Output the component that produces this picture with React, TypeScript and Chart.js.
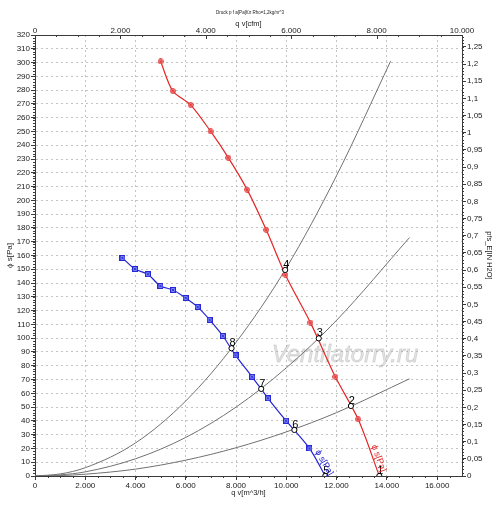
import React, { useEffect, useRef } from 'react';
import { Chart, registerables } from 'chart.js';

Chart.register(...registerables);

// ---- data ----
const FAN_RED_Q = [5000, 5480, 6190, 6990, 7690, 8440, 9200, 9965, 10960, 11950, 12860, 13700];
const FAN_RED_P = [300.8, 279.5, 269.3, 250, 231, 207.8, 178.6, 145.9, 111.3, 72, 41.1, 0];

const FAN_BLUE_Q = [3480, 3980, 4490, 4990, 5490, 5995, 6470, 6950, 7475, 7980, 8640, 9270, 9990, 10920, 11550];
const FAN_BLUE_P = [158.2, 150.2, 146.4, 137.9, 135, 129.2, 122.7, 113.3, 101.6, 87.6, 72, 56.4, 40.1, 20, 0];

const SYS_A_Q = [0, 1000, 2000, 4000, 6000, 8000, 10000, 12000, 14150];
const SYS_A_P = [0, 1.5, 6, 24, 54.5, 97, 151, 218, 301];
const SYS_B_Q = [0, 1000, 2000, 4000, 6000, 8000, 10000, 12000, 14900];
const SYS_B_P = [0, 0.8, 3, 12.5, 28, 50, 78.5, 113, 173];
const SYS_C_Q = [0, 1000, 2000, 4000, 6000, 8000, 10000, 12000, 14900];
const SYS_C_P = [0, 0.3, 1.3, 5, 11.5, 20.5, 32, 46, 70.5];

const OP_Q = [13700, 12570, 11290, 9955, 11550, 10320, 9000, 7820];
const OP_P = [0, 50.8, 99.9, 149.5, 0, 33.4, 63.2, 92.7];
const OP_LABELS = ['1', '2', '3', '4', '5', '6', '7', '8'];

const X_TICKS = [0, 2000, 4000, 6000, 8000, 10000, 12000, 14000, 16000];
const CFM_TICKS = [0, 2000, 4000, 6000, 8000, 10000];
const P_TICK_STEP = 10;
const INH2O_TICK_STEP = 0.05;
const CFM_MAX = 10000;
const M3H_PER_CFM = 1.699;
const X_MAX = CFM_MAX * M3H_PER_CFM;
const P_MAX = 320;
const PA_PER_INH2O = 249.089;
const INH2O_MAX = P_MAX / PA_PER_INH2O;

const TITLE_TEXT = 'Druck p f a[Pa]für Rho=1,2kg/m^3';
const X_TITLE = 'q v[m^3/h]';
const X2_TITLE = 'q v[cfm]';
const Y_TITLE = 'ϕ s[Pa]';
const Y2_TITLE = 'pfs_E[IN H2O]';
const CURVE_LABEL = 'ϕ s[Pa]';
const WATERMARK = 'Ventilatorry.ru';

// ---- styles ----
const FONT = '"Liberation Sans", Arial, sans-serif';
const RED = 'rgb(228,38,38)';
const BLUE = 'rgb(36,36,214)';
const GRAY = '#717171';
const AXIS = '#3a3a3a';
const GRID = '#c4c4c4';
const TEXT = '#1a1a1a';

const fmtThousands = (v: number) =>
  String(Math.round(v)).replace(/\B(?=(\d{3})+(?!\d))/g, '.');
const fmtDec = (v: number) => String(Math.round(v * 100) / 100).replace('.', ',');

function makeMarker(kind: 'circle' | 'square', stroke: string, fill: string) {
  const c = document.createElement('canvas');
  c.width = 6;
  c.height = 6;
  const g = c.getContext('2d')!;
  g.lineWidth = 1;
  g.strokeStyle = stroke;
  g.fillStyle = fill;
  if (kind === 'circle') {
    g.beginPath();
    g.arc(3, 3, 2.4, 0, Math.PI * 2);
    g.fill();
    g.stroke();
  } else {
    g.fillRect(0.5, 0.5, 5, 5);
    g.strokeRect(0.5, 0.5, 5, 5);
  }
  g.lineWidth = 0.8;
  g.beginPath();
  g.moveTo(1.6, 1.6);
  g.lineTo(4.4, 4.4);
  g.moveTo(4.4, 1.6);
  g.lineTo(1.6, 4.4);
  g.stroke();
  return c;
}

const toXY = (q: number[], p: number[]) => q.map((x, i) => ({ x, y: p[i] }));
const fixedTicks = (values: number[]) => (s: any) => {
  s.ticks = values.map((value) => ({ value }));
};

export default function App() {
  const ref = useRef<HTMLCanvasElement | null>(null);

  useEffect(() => {
    document.body.style.margin = '0';
    const canvas = ref.current;
    if (!canvas) return;

    const redMarker = makeMarker('circle', 'rgb(220,40,40)', 'rgba(250,150,150,0.9)');
    const blueMarker = makeMarker('square', 'rgb(40,40,210)', 'rgba(120,130,250,0.95)');

    const lastRed = FAN_RED_Q.length - 1;
    const lastBlue = FAN_BLUE_Q.length - 1;

    const titlePlugin = {
      id: 'mainTitle',
      afterDraw(chart: any) {
        const { ctx } = chart;
        ctx.save();
        ctx.font = `4.5px ${FONT}`;
        ctx.fillStyle = TEXT;
        ctx.textAlign = 'center';
        ctx.textBaseline = 'middle';
        ctx.fillText(TITLE_TEXT, chart.width / 2, 13);
        ctx.restore();
      },
    };

    const watermarkPlugin = {
      id: 'watermark',
      beforeDatasetsDraw(chart: any) {
        const { ctx } = chart;
        ctx.save();
        ctx.font = `italic 24px ${FONT}`;
        ctx.fillStyle = 'rgba(175,175,175,0.35)';
        ctx.strokeStyle = 'rgba(160,160,160,0.35)';
        ctx.lineWidth = 0.8;
        ctx.textAlign = 'center';
        ctx.textBaseline = 'alphabetic';
        ctx.fillText(WATERMARK, 345, 362);
        ctx.strokeText(WATERMARK, 345, 362);
        ctx.restore();
      },
    };

    const minorTicksPlugin = {
      id: 'minorTicks',
      afterDraw(chart: any) {
        const { ctx, chartArea: a, scales } = chart;
        ctx.save();
        ctx.strokeStyle = AXIS;
        ctx.lineWidth = 1;
        const draw = (scale: any, step: number, len: number, side: string) => {
          const n = Math.floor((scale.max - scale.min) / step + 1e-6);
          for (let i = 0; i <= n; i++) {
            const v = scale.min + i * step;
            const p = Math.round(scale.getPixelForValue(v)) + 0.5;
            ctx.beginPath();
            if (side === 'left') {
              ctx.moveTo(a.left, p);
              ctx.lineTo(a.left - len, p);
            } else if (side === 'right') {
              ctx.moveTo(a.right, p);
              ctx.lineTo(a.right + len, p);
            } else if (side === 'bottom') {
              ctx.moveTo(p, a.bottom);
              ctx.lineTo(p, a.bottom + len);
            } else {
              ctx.moveTo(p, a.top);
              ctx.lineTo(p, a.top + len);
            }
            ctx.stroke();
          }
        };
        draw(scales.y, P_TICK_STEP / 5, 2, 'left');
        draw(scales.y2, INH2O_TICK_STEP / 5, 2, 'right');
        draw(scales.x, (X_TICKS[1] - X_TICKS[0]) / 4, 2, 'bottom');
        draw(scales.x2, (CFM_TICKS[1] - CFM_TICKS[0]) / 4, 2, 'top');
        draw(scales.x2, CFM_TICKS[1] - CFM_TICKS[0], 4, 'top');
        ctx.restore();
      },
    };

    const labelsPlugin = {
      id: 'pointLabels',
      afterDatasetsDraw(chart: any) {
        const { ctx } = chart;
        ctx.save();
        const opMeta = chart.getDatasetMeta(0);
        ctx.font = `11px ${FONT}`;
        ctx.fillStyle = '#000';
        ctx.textAlign = 'center';
        ctx.textBaseline = 'alphabetic';
        opMeta.data.forEach((el: any, i: number) => {
          ctx.fillText(OP_LABELS[i], el.x + 1, el.y - 2);
        });
        const curveLabel = (dsIndex: number, frac: number, color: string) => {
          const els = chart.getDatasetMeta(dsIndex).data;
          const a = els[els.length - 2];
          const b = els[els.length - 1];
          const x = a.x + (b.x - a.x) * frac;
          const y = a.y + (b.y - a.y) * frac;
          const ang = Math.atan2(b.y - a.y, b.x - a.x);
          ctx.save();
          ctx.translate(x, y);
          ctx.rotate(ang);
          ctx.font = `9px ${FONT}`;
          ctx.fillStyle = color;
          ctx.textAlign = 'center';
          ctx.textBaseline = 'bottom';
          ctx.fillText(CURVE_LABEL, 0, -1);
          ctx.restore();
        };
        curveLabel(1, 0.72, RED);
        curveLabel(2, 0.62, BLUE);
        ctx.restore();
      },
    };

    const tickFont = { family: FONT, size: 8 };

    const chart = new Chart(canvas, {
      type: 'line',
      data: {
        datasets: [
          {
            label: 'operating points',
            data: toXY(OP_Q, OP_P),
            showLine: false,
            pointStyle: 'circle',
            pointRadius: 2.6,
            pointBackgroundColor: '#fff',
            pointBorderColor: '#000',
            pointBorderWidth: 1,
            xAxisID: 'x',
            yAxisID: 'y',
          },
          {
            label: 'red',
            data: toXY(FAN_RED_Q, FAN_RED_P),
            borderColor: RED,
            borderWidth: 1.2,
            tension: 0.3,
            pointStyle: redMarker as any,
            pointRadius: (c: any) => (c.dataIndex === lastRed ? 0 : 3),
            xAxisID: 'x',
            yAxisID: 'y',
          },
          {
            label: 'blue',
            data: toXY(FAN_BLUE_Q, FAN_BLUE_P),
            borderColor: BLUE,
            borderWidth: 1.2,
            tension: 0.3,
            pointStyle: blueMarker as any,
            pointRadius: (c: any) => (c.dataIndex === lastBlue ? 0 : 3),
            xAxisID: 'x',
            yAxisID: 'y',
          },
          {
            label: 'sysA',
            data: toXY(SYS_A_Q, SYS_A_P),
            borderColor: GRAY,
            borderWidth: 1,
            cubicInterpolationMode: 'monotone',
            pointRadius: 0,
            xAxisID: 'x',
            yAxisID: 'y',
          },
          {
            label: 'sysB',
            data: toXY(SYS_B_Q, SYS_B_P),
            borderColor: GRAY,
            borderWidth: 1,
            cubicInterpolationMode: 'monotone',
            pointRadius: 0,
            xAxisID: 'x',
            yAxisID: 'y',
          },
          {
            label: 'sysC',
            data: toXY(SYS_C_Q, SYS_C_P),
            borderColor: GRAY,
            borderWidth: 1,
            cubicInterpolationMode: 'monotone',
            pointRadius: 0,
            xAxisID: 'x',
            yAxisID: 'y',
          },
        ],
      },
      options: {
        animation: false,
        responsive: true,
        maintainAspectRatio: false,
        layout: { padding: 0 },
        events: [],
        plugins: {
          legend: { display: false },
          tooltip: { enabled: false },
          title: { display: false },
        },
        scales: {
          x: {
            type: 'linear',
            position: 'bottom',
            min: 0,
            max: X_MAX,
            afterBuildTicks: fixedTicks(X_TICKS),
            afterFit: (s: any) => {
              s.height = 34;
            },
            grid: {
              color: GRID,
              lineWidth: 1,
              tickLength: 4,
              tickColor: AXIS,
            },
            border: { display: true, color: AXIS, width: 1, dash: [2, 3] },
            ticks: {
              autoSkip: false,
              maxRotation: 0,
              padding: 1,
              color: TEXT,
              font: tickFont,
              callback: (v: any) => fmtThousands(Number(v)),
            },
            title: {
              display: true,
              text: X_TITLE,
              color: TEXT,
              font: { family: FONT, size: 7.5 },
              padding: { top: 0, bottom: 12.5 },
            },
          },
          x2: {
            type: 'linear',
            position: 'top',
            min: 0,
            max: CFM_MAX,
            afterBuildTicks: fixedTicks(CFM_TICKS),
            afterFit: (s: any) => {
              s.height = 35;
            },
            grid: { drawOnChartArea: false, drawTicks: false },
            border: { display: true, color: AXIS, width: 1 },
            ticks: {
              autoSkip: false,
              maxRotation: 0,
              padding: -1,
              color: TEXT,
              font: tickFont,
              callback: (v: any) => fmtThousands(Number(v)),
            },
            title: {
              display: true,
              text: X2_TITLE,
              color: TEXT,
              font: { family: FONT, size: 7.5 },
              padding: { top: 19.5, bottom: 0 },
            },
          },
          y: {
            type: 'linear',
            position: 'left',
            min: 0,
            max: P_MAX,
            afterFit: (s: any) => {
              s.width = 35;
            },
            grid: {
              color: GRID,
              lineWidth: 1,
              tickLength: 4,
              tickColor: AXIS,
            },
            border: { display: true, color: AXIS, width: 1, dash: [2, 3] },
            ticks: {
              stepSize: P_TICK_STEP,
              autoSkip: false,
              padding: 1,
              color: TEXT,
              font: tickFont,
            },
            title: {
              display: true,
              text: Y_TITLE,
              color: TEXT,
              font: { family: FONT, size: 8 },
              padding: { top: 5, bottom: 0 },
            },
          },
          y2: {
            type: 'linear',
            position: 'right',
            min: 0,
            max: INH2O_MAX,
            afterFit: (s: any) => {
              s.width = 38;
            },
            grid: { drawOnChartArea: false, tickLength: 4, tickColor: AXIS },
            border: { display: true, color: AXIS, width: 1 },
            ticks: {
              stepSize: INH2O_TICK_STEP,
              includeBounds: false,
              autoSkip: false,
              padding: 1,
              color: TEXT,
              font: tickFont,
              callback: (v: any) => fmtDec(Number(v)),
            },
            title: {
              display: true,
              text: Y2_TITLE,
              color: TEXT,
              font: { family: FONT, size: 7.5 },
              padding: { top: 6, bottom: 0 },
            },
          },
        },
      } as any,
      plugins: [titlePlugin, watermarkPlugin, minorTicksPlugin, labelsPlugin],
    });

    return () => chart.destroy();
  }, []);

  return (
    <div style={{ width: 500, height: 510, position: 'relative', background: '#fff' }}>
      <canvas ref={ref} />
    </div>
  );
}
